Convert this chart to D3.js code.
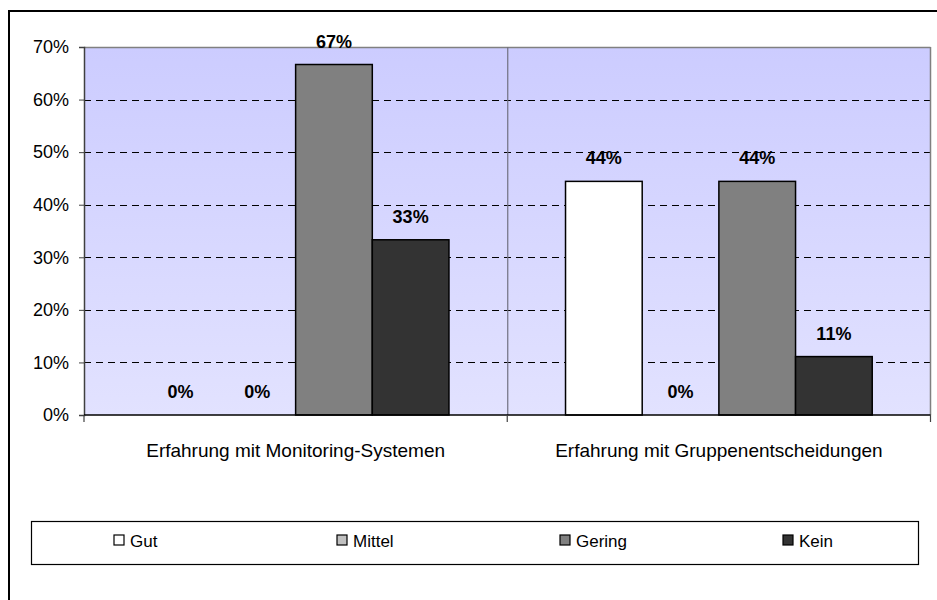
<!DOCTYPE html>
<html><head><meta charset="utf-8">
<script src="https://cdn.jsdelivr.net/npm/d3@7"></script>
<style>body{margin:0;background:#fff}svg{display:block}text{font-family:Arial,"Liberation Sans",sans-serif}</style>
</head><body>
<svg id="c" width="937" height="600"></svg>
<script>
const categories = ["Erfahrung mit Monitoring-Systemen", "Erfahrung mit Gruppenentscheidungen"];
const seriesNames = ["Gut", "Mittel", "Gering", "Kein"];
const seriesColors = ["#ffffff", "#c0c0c0", "#808080", "#333333"];
const valuesGut = [0, 44.44];
const valuesMittel = [0, 0];
const valuesGering = [66.67, 44.44];
const valuesKein = [33.33, 11.11];
const yTicks = [0, 10, 20, 30, 40, 50, 60, 70];

const seriesValues = [valuesGut, valuesMittel, valuesGering, valuesKein];
const svg = d3.select("#c");

// outer frame
svg.append("rect").attr("x", 9).attr("y", 11).attr("width", 940).attr("height", 600)
  .attr("fill", "none").attr("stroke", "#000").attr("stroke-width", 2);

const L = 84, R = 930.5, T = 47, B = 415;
const x0 = d3.scaleBand().domain(categories).range([L, R]).paddingInner(0).paddingOuter(0);
const x1 = d3.scaleBand().domain(seriesNames).range([0, x0.bandwidth()]).paddingInner(0).paddingOuter(0.76);
const y = d3.scaleLinear().domain([0, 70]).range([B, T]);

const defs = svg.append("defs");
const grad = defs.append("linearGradient").attr("id", "bg").attr("x1", 0).attr("y1", 0).attr("x2", 0).attr("y2", 1);
grad.append("stop").attr("offset", "0%").attr("stop-color", "#ccccff");
grad.append("stop").attr("offset", "100%").attr("stop-color", "#e2e2ff");

svg.append("rect").attr("x", L).attr("y", T).attr("width", R - L).attr("height", B - T).attr("fill", "url(#bg)");

// gridlines
svg.append("g").selectAll("line").data(yTicks.filter(t => t > 0 && t < 70)).join("line")
  .attr("x1", L).attr("x2", R).attr("y1", d => Math.round(y(d)) + 0.5).attr("y2", d => Math.round(y(d)) + 0.5)
  .attr("stroke", "#000").attr("stroke-dasharray", "7,5").attr("stroke-width", 1);

// plot border top & right (gray), divider
svg.append("line").attr("x1", L).attr("x2", R).attr("y1", T + 0.5).attr("y2", T + 0.5).attr("stroke", "#808080").attr("stroke-width", 1.5);
svg.append("line").attr("x1", R).attr("x2", R).attr("y1", T).attr("y2", B).attr("stroke", "#808080").attr("stroke-width", 1.5);
svg.append("g").selectAll("line").data(categories.slice(1)).join("line")
  .attr("x1", d => x0(d) + 0.5).attr("x2", d => x0(d) + 0.5).attr("y1", T).attr("y2", B)
  .attr("stroke", "#707080").attr("stroke-width", 1.2);

// bars
const groups = svg.append("g").selectAll("g").data(categories).join("g")
  .attr("transform", d => `translate(${x0(d)},0)`);
groups.each(function(cat, ci) {
  const g = d3.select(this);
  seriesNames.forEach((s, si) => {
    const v = seriesValues[si][ci];
    if (v > 0) {
      g.append("rect").attr("x", x1(s)).attr("y", y(v)).attr("width", x1.bandwidth()).attr("height", y(0) - y(v))
        .attr("fill", seriesColors[si]).attr("stroke", "#000").attr("stroke-width", 1.5);
    }
    g.append("text").attr("x", x1(s) + x1.bandwidth() / 2).attr("y", y(v) - 17)
      .attr("text-anchor", "middle").attr("font-size", 18).attr("font-weight", "bold").attr("fill", "#000")
      .text(Math.round(v) + "%");
  });
});

// y axis
const yAxis = d3.axisLeft(y).tickValues(yTicks).tickFormat(d => d + "%").tickSize(5).tickPadding(10);
const ya = svg.append("g").attr("transform", `translate(${L},0)`).call(yAxis);
ya.select(".domain").attr("stroke", "#404040").attr("stroke-width", 1.5);
ya.selectAll(".tick line").attr("stroke", "#404040");
ya.selectAll("text").attr("font-size", 18).attr("fill", "#000").attr("font-family", "Arial, 'Liberation Sans', sans-serif");

// x axis
const xa = svg.append("g").attr("transform", `translate(0,${B})`);
xa.append("line").attr("x1", L).attr("x2", R).attr("y1", 0).attr("y2", 0).attr("stroke", "#000").attr("stroke-width", 1.5);
const boundaries = categories.map(c => x0(c)).concat([R]);
xa.selectAll("line.tk").data(boundaries).join("line").attr("class", "tk")
  .attr("x1", d => d).attr("x2", d => d).attr("y1", 0).attr("y2", 7).attr("stroke", "#404040").attr("stroke-width", 1.2);
xa.selectAll("text").data(categories).join("text")
  .attr("x", d => x0(d) + x0.bandwidth() / 2).attr("y", 42)
  .attr("text-anchor", "middle").attr("font-size", 19).attr("fill", "#000").text(d => d);

// legend
const lg = svg.append("g");
lg.append("rect").attr("x", 31.5).attr("y", 521.5).attr("width", 887).attr("height", 43)
  .attr("fill", "#fff").attr("stroke", "#000").attr("stroke-width", 1.2);
const legendX = d3.scalePoint().domain(seriesNames).range([114, 783]);
const items = lg.selectAll("g").data(seriesNames).join("g")
  .attr("transform", d => `translate(${legendX(d)},540)`);
items.append("rect").attr("x", 0).attr("y", -5).attr("width", 10).attr("height", 10)
  .attr("fill", (d, i) => seriesColors[i]).attr("stroke", "#000").attr("stroke-width", 1.2);
items.append("text").attr("x", 16).attr("y", 6.5).attr("font-size", 17).attr("fill", "#000").text(d => d);
</script>
</body></html>
